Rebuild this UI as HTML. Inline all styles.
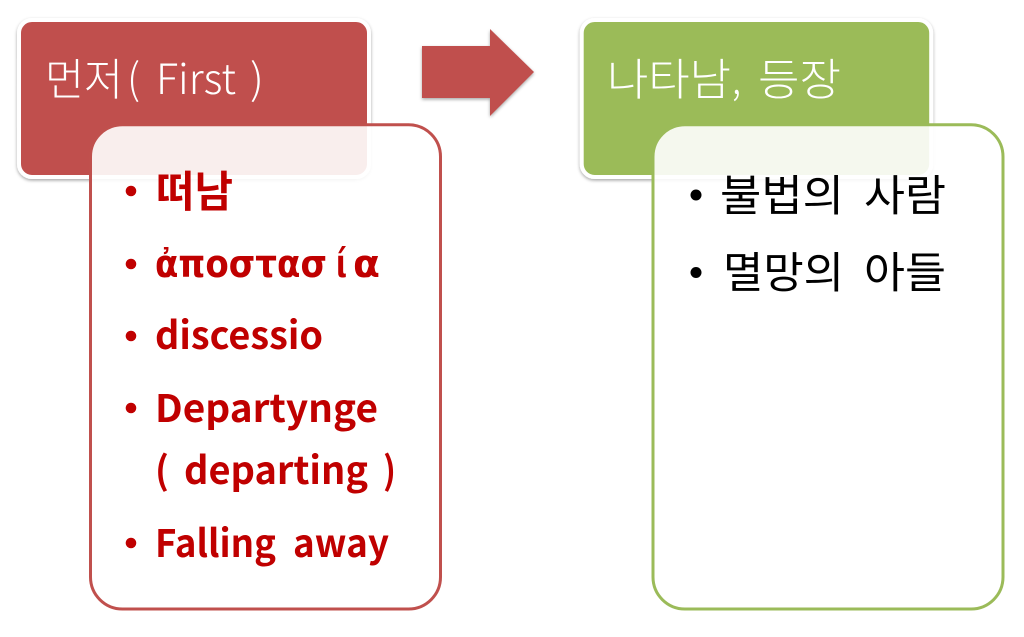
<!DOCTYPE html>
<html>
<head>
<meta charset="utf-8">
<style>
html,body{margin:0;padding:0;background:#fff;width:1024px;height:637px;overflow:hidden}
svg{display:block}
text{font-family:"Noto Sans CJK KR","Liberation Sans",sans-serif}
.t{fill:#fff;font-weight:300}
.h{font-size:44px}
.l{font-size:42px}
.r{fill:#c00000;font-weight:bold;font-size:38px}
.rk{fill:#c00000;font-weight:bold;font-size:43px}
.g{fill:#c00000;font-weight:bold;font-size:38px;font-family:"DejaVu Sans","Liberation Sans",sans-serif}
.b{fill:#000;font-size:43px}
</style>
</head>
<body>
<svg width="1024" height="637" viewBox="0 0 1024 637" xmlns="http://www.w3.org/2000/svg">
<defs>
<filter id="s" x="-10%" y="-10%" width="120%" height="120%"><feDropShadow dx="0" dy="1.5" stdDeviation="1.5" flood-color="#000" flood-opacity=".35"/></filter>
</defs>
<rect x="19" y="20" width="350" height="157" rx="13" fill="#c0504d" stroke="#fff" stroke-width="4" filter="url(#s)"/>
<rect x="581.7" y="20" width="349.5" height="157" rx="13" fill="#9bbb59" stroke="#fff" stroke-width="4" filter="url(#s)"/>
<path d="M422 46H490V29L534 72L490 116V98H422Z" fill="#c0504d" filter="url(#s)"/>

<text class="t h" x="45" y="95" textLength="78" lengthAdjust="spacingAndGlyphs">먼저</text>
<text class="t l" x="127" y="94" textLength="13" lengthAdjust="spacingAndGlyphs">(</text>
<text class="t l" x="156" y="94" textLength="80" lengthAdjust="spacingAndGlyphs">First</text>
<text class="t l" x="250" y="94" textLength="14" lengthAdjust="spacingAndGlyphs">)</text>

<text class="t h" x="607" y="95" textLength="124" lengthAdjust="spacingAndGlyphs">나타남</text>
<text class="t l" x="732" y="94" textLength="9" lengthAdjust="spacingAndGlyphs">,</text>
<text class="t h" x="758" y="95" textLength="83" lengthAdjust="spacingAndGlyphs">등장</text>

<rect x="90.5" y="124.7" width="350" height="484.3" rx="32" fill="#fff" fill-opacity=".9" stroke="#c0504d" stroke-width="3"/>
<rect x="653" y="124.7" width="350" height="484.3" rx="32" fill="#fff" fill-opacity=".9" stroke="#9bbb59" stroke-width="3"/>

<g fill="#c00000">
<circle cx="131" cy="191" r="5.3"/><circle cx="131" cy="264" r="5.3"/><circle cx="131" cy="336" r="5.3"/><circle cx="131" cy="408" r="5.3"/><circle cx="131" cy="543" r="5.3"/>
</g>
<text class="rk" x="156" y="207" textLength="77" lengthAdjust="spacingAndGlyphs">떠남</text>

<text class="g" x="155" y="277" textLength="172" lengthAdjust="spacingAndGlyphs">ἀποστασ</text>
<text class="g" x="336" y="277" textLength="11" lengthAdjust="spacingAndGlyphs">ί</text>
<text class="g" x="353" y="277" textLength="27" lengthAdjust="spacingAndGlyphs">α</text>

<text class="r" x="155" y="349" textLength="168" lengthAdjust="spacingAndGlyphs">discessio</text>
<text class="r" x="155" y="422" textLength="223" lengthAdjust="spacingAndGlyphs">Departynge</text>
<text class="r" x="155" y="484" textLength="14" lengthAdjust="spacingAndGlyphs">(</text>
<text class="r" x="184" y="484" textLength="184" lengthAdjust="spacingAndGlyphs">departing</text>
<text class="r" x="383" y="484" textLength="13" lengthAdjust="spacingAndGlyphs">)</text>
<text class="r" x="155" y="557" textLength="121" lengthAdjust="spacingAndGlyphs">Falling</text>
<text class="r" x="293" y="557" textLength="96" lengthAdjust="spacingAndGlyphs">away</text>

<circle cx="696" cy="195" r="5.5"/><circle cx="696" cy="272.5" r="5.5"/>
<text class="b" x="720" y="211" textLength="124" lengthAdjust="spacingAndGlyphs">불법의</text>
<text class="b" x="864" y="211" textLength="82" lengthAdjust="spacingAndGlyphs">사람</text>
<text class="b" x="723" y="288" textLength="121" lengthAdjust="spacingAndGlyphs">멸망의</text>
<text class="b" x="864" y="288" textLength="82" lengthAdjust="spacingAndGlyphs">아들</text>
</svg>
</body>
</html>
